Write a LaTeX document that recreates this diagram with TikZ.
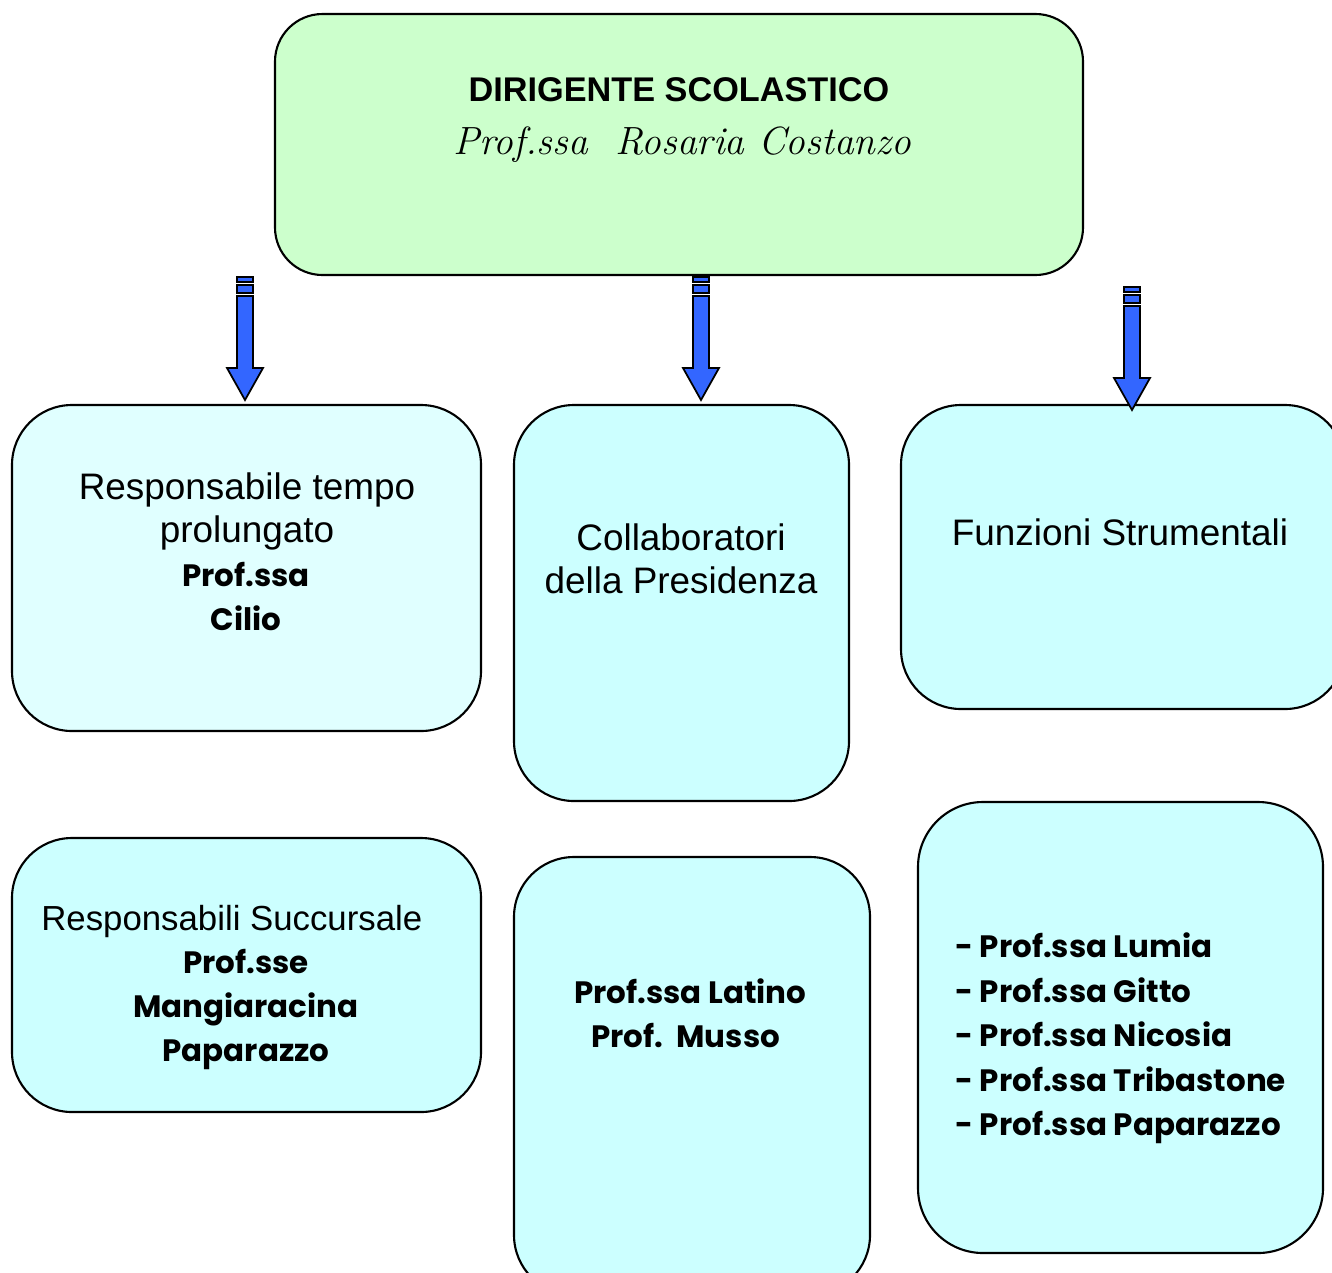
\documentclass[tikz,border=0pt]{standalone}
\usepackage{fontspec}
\setmainfont{Liberation Sans}
\newfontfamily\comicf{Poppins}
\newfontfamily\scriptf{Latin Modern Roman}
\usetikzlibrary{fit}
\definecolor{topgreen}{HTML}{CCFFCC}
\definecolor{lightcyan}{HTML}{E0FFFF}
\definecolor{cyanbox}{HTML}{CCFFFF}
\definecolor{arrowblue}{HTML}{3366FF}
\tikzset{
  box/.style={draw=black, line width=1.2pt, inner sep=0pt, rounded corners=1.2cm},
  arial/.style={anchor=base, inner sep=0pt, font=\fontsize{21}{24}\selectfont},
  arialbold/.style={anchor=base, inner sep=0pt, font=\fontsize{19.5}{23}\selectfont\bfseries},
  comic/.style={anchor=base, inner sep=0pt, font=\fontsize{17.6}{21}\selectfont\comicf\bfseries},
  scripttxt/.style={anchor=base, inner sep=0pt, font=\fontsize{22.4}{27}\selectfont\scriptf\itshape},
  blockarrow/.style={draw=black, fill=arrowblue, line width=1pt, line join=miter}
}
\newcommand\stripearrow[2]{%
  \begin{scope}[shift={(#1,#2)}]
    \draw[blockarrow] (-8,0) rectangle (8,5);
    \draw[blockarrow] (-8,8) rectangle (8,16);
    \draw[blockarrow] (-8,19) -- (8,19) -- (8,91) -- (18,91) -- (0,123) -- (-18,91) -- (-8,91) -- cycle;
  \end{scope}}
\begin{document}
\begin{tikzpicture}[x=0.02cm, y=-0.02cm]
\useasboundingbox (0,0) rectangle (1332,1272);
\clip (0,0) rectangle (1332,1272);
% boxes
\node[box, fill=topgreen, rounded corners=0.95cm, fit={(275,14) (1083,275)}] (top) {};
\node[box, fill=lightcyan, fit={(12,405) (481,731)}] (resp) {};
\node[box, fill=cyanbox, fit={(514,405) (849,801)}] (coll) {};
\node[box, fill=cyanbox, fit={(901,405) (1345,709)}] (funz) {};
\node[box, fill=cyanbox, fit={(12,838) (481,1112)}] (succ) {};
\node[box, fill=cyanbox, fit={(514,857) (870,1295)}] (collnames) {};
\node[box, fill=cyanbox, rounded corners=1.3cm, fit={(918,802) (1323,1253)}] (funznames) {};
% arrows
\stripearrow{245}{277}
\stripearrow{701}{277}
\stripearrow{1132}{287}
% top texts
\node[arialbold] (t1) at (679,101) {DIRIGENTE SCOLASTICO};
\node[scripttxt] (t2) at (682,154) {Prof.ssa\ \ Rosaria Costanzo};
% responsabile tempo prolungato
\node[arial] (r1) at (247,499) {Responsabile tempo};
\node[arial] (r2) at (247,542) {prolungato};
\node[comic] (r3) at (246,586) {Prof.ssa};
\node[comic] (r4) at (246,630) {Cilio};
% collaboratori
\node[arial] (c1) at (681,550) {Collaboratori};
\node[arial] (c2) at (681,593) {della Presidenza};
% funzioni
\node[arial] (f1) at (1120,545) {Funzioni Strumentali};
% succursale
\node[arial, anchor=base west, font=\fontsize{19.8}{23}\selectfont] (s1) at (41,930) {Responsabili Succursale};
\node[comic] (s2) at (246,973) {Prof.sse};
\node[comic] (s3) at (246,1017) {Mangiaracina};
\node[comic] (s4) at (246,1061) {Paparazzo};
% collaboratori names
\node[comic, anchor=base west] (n1) at (574,1003) {Prof.ssa Latino};
\node[comic, anchor=base west] (n2) at (591,1047) {Prof.\ \ Musso};
% funzioni names
\node[comic, anchor=base west] (l1) at (955,957) {-\ Prof.ssa Lumia};
\node[comic, anchor=base west] (l2) at (955,1002) {-\ Prof.ssa Gitto};
\node[comic, anchor=base west] (l3) at (955,1046) {-\ Prof.ssa Nicosia};
\node[comic, anchor=base west] (l4) at (955,1091) {-\ Prof.ssa Tribastone};
\node[comic, anchor=base west] (l5) at (955,1135) {-\ Prof.ssa Paparazzo};
\end{tikzpicture}
\end{document}
